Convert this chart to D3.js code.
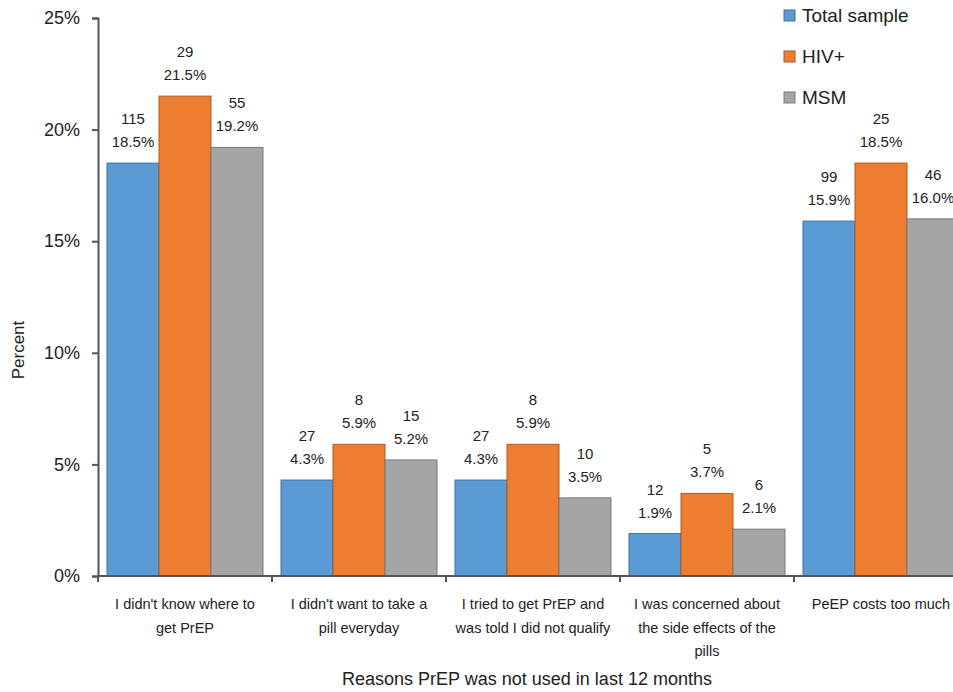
<!DOCTYPE html>
<html><head><meta charset="utf-8">
<script src="https://cdn.jsdelivr.net/npm/d3@7/dist/d3.min.js"></script>
<style>body{margin:0;background:#fff;} text{font-family:"Liberation Sans",Arial,sans-serif;fill:#222;}</style>
</head><body><svg id="c" width="953" height="692"></svg>
<script>
const categories = [
  ["I didn't know where to","get PrEP"],
  ["I didn't want to take a","pill everyday"],
  ["I tried to get PrEP and","was told I did not qualify"],
  ["I was concerned about","the side effects of the","pills"],
  ["PeEP costs too much"]
];
const seriesNames = ["Total sample","HIV+","MSM"];
const totalPct = [18.5, 4.3, 4.3, 1.9, 15.9];
const totalN   = [115, 27, 27, 12, 99];
const hivPct   = [21.5, 5.9, 5.9, 3.7, 18.5];
const hivN     = [29, 8, 8, 5, 25];
const msmPct   = [19.2, 5.2, 3.5, 2.1, 16.0];
const msmN     = [55, 15, 10, 6, 46];
const yTicks = [0,5,10,15,20,25];
const colors = ["#5B9BD5","#ED7D31","#A5A5A5"];
const strokes = ["#41719C","#AE5A21","#787878"];

(function(){
const svg = d3.select("#c");
const mL = 98, mR = 968, mT = 18, mB = 576;
const y = d3.scaleLinear().domain([0,25]).range([mB, mT]);
const x0 = d3.scaleBand().domain(d3.range(categories.length)).range([mL, mR]).padding(0);
const x1 = d3.scaleBand().domain(d3.range(3)).range([9, x0.bandwidth()-9]).padding(0);

const series = [
  {pct: totalPct, n: totalN},
  {pct: hivPct, n: hivN},
  {pct: msmPct, n: msmN}
];

const g = svg.append("g");
series.forEach((s, si) => {
  g.selectAll(null).data(s.pct).enter().append("rect")
    .attr("x", (d,i) => x0(i) + x1(si))
    .attr("y", d => y(d))
    .attr("width", x1.bandwidth())
    .attr("height", d => mB - y(d))
    .attr("fill", colors[si])
    .attr("stroke", strokes[si]).attr("stroke-width", 1);
  const lab = g.selectAll(null).data(s.pct).enter().append("text")
    .attr("text-anchor","middle").attr("font-size", 15);
  lab.append("tspan").attr("x", (d,i) => x0(i)+x1(si)+x1.bandwidth()/2)
    .attr("y", d => y(d) - 39).text((d,i) => s.n[i]);
  lab.append("tspan").attr("x", (d,i) => x0(i)+x1(si)+x1.bandwidth()/2)
    .attr("y", d => y(d) - 16).text(d => d.toFixed(1) + "%");
});

const ya = svg.append("g").attr("transform", `translate(${mL},0)`)
  .call(d3.axisLeft(y).tickValues(yTicks).tickFormat(d => d + "%").tickSizeOuter(0).tickSize(6));
ya.select(".domain").attr("stroke","#555").attr("stroke-width",2);
ya.selectAll(".tick line").attr("stroke","#555").attr("stroke-width",2);
ya.selectAll(".tick text").attr("font-size",18).attr("fill","#222")
  .attr("font-family","Liberation Sans, Arial, sans-serif").attr("x",-18);

const xa = svg.append("g").attr("transform", `translate(0,${mB})`);
xa.append("line").attr("x1", mL).attr("x2", mR).attr("y1",0).attr("y2",0)
  .attr("stroke","#555").attr("stroke-width",2);
xa.selectAll(null).data(d3.range(categories.length+1)).enter().append("line")
  .attr("x1", i => mL + i*x0.step()).attr("x2", i => mL + i*x0.step())
  .attr("y1",0).attr("y2",6).attr("stroke","#555").attr("stroke-width",2);
categories.forEach((lines, i) => {
  const t = svg.append("text").attr("text-anchor","middle").attr("font-size",14.5);
  lines.forEach((l, k) => {
    t.append("tspan").attr("x", x0(i) + x0.bandwidth()/2).attr("y", mB + 33 + k*23.5).text(l);
  });
});

svg.append("text").attr("text-anchor","middle").attr("font-size",18)
  .attr("x", 527).attr("y", 685).text("Reasons PrEP was not used in last 12 months");
svg.append("text").attr("text-anchor","middle").attr("font-size",17)
  .attr("transform", "translate(24,350) rotate(-90)").text("Percent");

const lg = svg.append("g");
seriesNames.forEach((nm, i) => {
  const yy = 15 + i*41;
  lg.append("rect").attr("x", 784).attr("y", yy-5).attr("width", 11).attr("height", 11)
    .attr("fill", colors[i]).attr("stroke", strokes[i]);
  lg.append("text").attr("x", 802).attr("y", yy+7).attr("font-size", 19).text(nm);
});
})();
</script></body></html>
